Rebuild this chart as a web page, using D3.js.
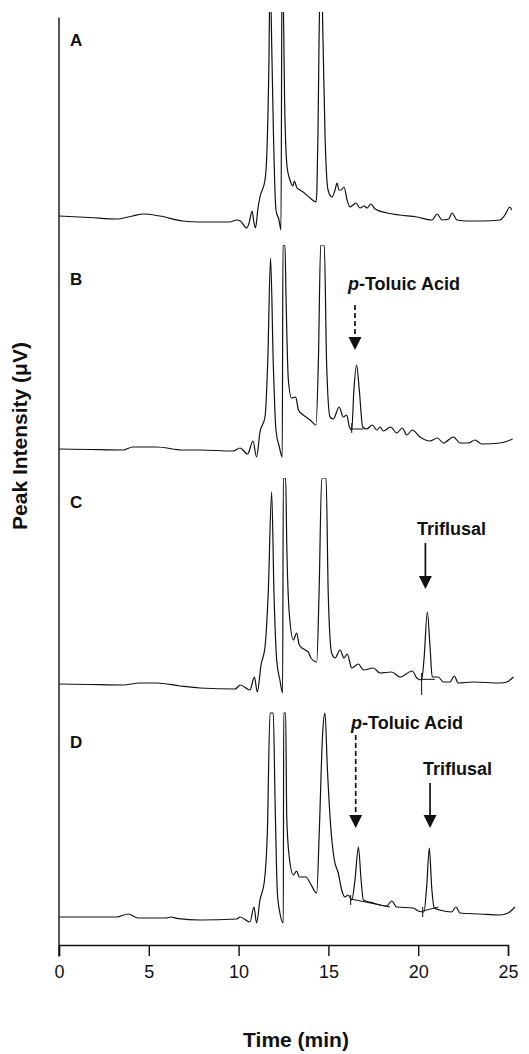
<!DOCTYPE html>
<html>
<head>
<meta charset="utf-8">
<script src="https://cdn.jsdelivr.net/npm/d3@7"></script>
<style>
body { margin: 0; background: #fff; }
text { font-family: "Liberation Sans", Arial, Helvetica, sans-serif; fill: #111; }
</style>
</head>
<body>
<svg id="chart" width="529" height="1054"></svg>
<script>
// chromatogram traces, [time (min), intensity]
var traceA = [[0,17],[1.7,15.5],[3.2,14],[4.1,17],[4.7,19],[5.6,17],[6.9,12],[7.85,11],[9.5,11],[9.9,13],[10.1,12],[10.45,5],[10.6,11],[10.75,22],[10.85,11],[10.94,5],
	[11.08,25],[11.19,36],[11.47,53],[11.58,83],[11.69,173],[11.75,260],[11.86,173],[11.94,100],[12.08,23],[12.25,13],[12.36,3],[12.42,280],[12.47,260],
	[12.56,133],[12.7,66],[12.86,53],[13.03,47],[13.1,52],[13.25,45],[13.42,43],[13.59,41],[13.98,35],[14.31,31],[14.36,43],[14.42,100],[14.48,193],[14.59,280],
	[14.7,193],[14.81,100],[14.98,43],[15.2,36],[15.37,43],[15.48,50],[15.59,43],[15.7,43],[15.87,46],[16.04,33],[16.2,26],[16.37,28],[16.54,30],[16.76,25],
	[16.98,27],[17.15,25],[17.37,29],[17.6,24],[18.26,20],[18.99,18],[19.93,16],[20.77,13],[21.05,19],[21.33,13],[21.7,14],[21.88,20],[22.16,13],[22.72,12],
	[23.6,12],[24.55,13],[24.83,18],[25.1,26],[25.2,23]]

var traceB = [[0,17],[1.7,16.5],[3.57,16],[4.1,19],[5.44,19],[6.9,16],[7.85,16],[9.7,15],[10.08,18],[10.5,12],[10.8,25],[11.0,9],[11.19,34],[11.47,49],[11.62,103],
	[11.78,208],[11.93,103],[12.08,36],[12.27,19],[12.43,9],[12.47,221],[12.58,221],[12.64,169],[12.77,86],[12.95,68],[13.18,69],[13.33,56],[13.6,51],[13.98,46],
	[14.31,41],[14.44,103],[14.57,221],[14.77,221],[14.9,103],[15.09,49],[15.27,47],[15.6,59],[15.83,49],[16.02,51],[16.17,39],[16.3,36],[16.42,76],[16.57,101],
	[16.72,76],[16.91,39],[17.13,37],[17.45,41],[17.69,36],[17.87,39],[18.06,35],[18.47,39],[18.8,33],[19.12,38],[19.36,31],[19.67,36],[20.1,29],[20.66,25],
	[21.07,28],[21.4,23],[21.96,29],[22.33,23],[22.8,23],[23.16,26],[23.54,22],[24.55,23],[25.26,27]]

var traceC = [[0,15],[1.7,14.5],[3.57,14],[4.5,16],[5.44,16],[6.74,13],[7.85,11],[9.8,10],[10.1,14],[10.63,9],[10.88,22],[11.04,7],[11.25,34],[11.47,52],[11.65,106],
	[11.84,207],[11.97,106],[12.12,39],[12.3,19],[12.45,6],[12.49,221],[12.62,221],[12.68,156],[12.82,86],[13.05,59],[13.23,66],[13.38,54],[13.7,49],[13.88,47],
	[14.03,41],[14.35,37],[14.48,106],[14.63,221],[14.87,221],[14.99,106],[15.18,46],[15.37,41],[15.65,49],[15.87,41],[16.05,45],[16.3,31],[16.67,35],[16.95,29],
	[17.5,31],[17.87,26],[18.52,27],[18.99,22],[19.67,28],[19.92,21],[20.19,19],[20.32,39],[20.51,87],[20.66,52],[20.78,22],[21.12,22],[21.4,17],[21.77,17],
	[22.01,23],[22.23,16],[23.07,17],[24.55,16],[24.93,17],[25.3,22]]

var traceD = [[0,15],[3.2,15],[3.86,18],[4.4,14],[6.0,14],[6.2,15],[6.55,13.7],[7.85,12],[9.9,13],[10.08,15],[10.63,10],[10.86,25],[11.0,9],[11.19,32],[11.43,50],
	[11.6,99],[11.75,219],[11.93,219],[12.03,132],[12.16,39],[12.3,19],[12.49,9],[12.51,219],[12.62,219],[12.68,115],[12.82,75],[13.05,57],[13.23,61],[13.38,55],
	[13.75,55],[13.98,49],[14.35,39],[14.49,99],[14.68,199],[14.81,219],[14.94,165],[15.13,105],[15.33,72],[15.55,59],[15.74,42],[15.92,35],[16.1,37],[16.3,32],
	[16.48,52],[16.67,85],[16.82,52],[16.95,32],[17.5,29],[18.25,26],[18.52,31],[18.8,25],[19.73,24],[20.0,21],[20.32,20],[20.47,45],[20.62,84],[20.75,45],
	[20.9,24],[21.21,22],[21.86,20],[22.1,25],[22.33,19],[23.44,18],[24.55,17],[25.0,19],[25.39,25]]

// integration baselines: start tick [t, v1, v2] and line [[t,v],[t,v]]
var integB = [{tick:[16.3,43,33], line:[[16.3,37],[16.95,37]]}]
var integC = [{tick:[20.19,26,4], line:[[20.19,19.7],[20.93,19.7]]}]
var integD = [{tick:[16.24,37,27], line:[[16.24,33],[18.43,25]]}, {tick:[20.25,25,15], line:[[20.25,21],[21.12,25]]}]

// annotations: label, text start time, text baseline, arrow time, arrow top, arrow tip, dashed?
var notesB = [{label:'Toluic Acid', italic:'p', tx:16.09, ty:176, ax:16.48, top:161, tip:116, dash:true}]
var notesC = [{label:'Triflusal', tx:19.93, ty:164, ax:20.4, top:156, tip:110, dash:false}]
var notesD = [{label:'Toluic Acid', italic:'p', tx:16.26, ty:203, ax:16.52, top:197, tip:104, dash:true},
	{label:'Triflusal', tx:20.27, ty:157, ax:20.66, top:149, tip:104, dash:false}]

var panelNames = ['A', 'B', 'C', 'D']
var traces = [traceA, traceB, traceC, traceD]
var integs = [[], integB, integC, integD]
var notes = [[], notesB, notesC, notesD]
var xTicks = [0, 5, 10, 15, 20, 25]

var svg = d3.select('#chart')

var x = d3.scaleLinear().domain([0, 25]).range([59, 508])
var bottoms = [233, 466, 699, 932]
var labelY = [187, 181, 191, 184]

var defs = svg.append('defs')

panelNames.forEach(function(name, i) {
	var y = d3.scaleLinear().domain([0, 220]).range([bottoms[i], bottoms[i] - 220])

	defs.append('clipPath').attr('id', 'clip' + i)
		.append('rect')
		.attr('x', 0).attr('width', 529)
		.attr('y', y(221)).attr('height', y(-20) - y(221))

	var g = svg.append('g')

	var line = d3.line()
		.x(function(d) { return x(d[0]) })
		.y(function(d) { return y(d[1]) })
		.curve(d3.curveMonotoneX)

	g.append('path')
		.datum(traces[i])
		.attr('clip-path', 'url(#clip' + i + ')')
		.attr('d', line)
		.attr('fill', 'none')
		.attr('stroke', '#111')
		.attr('stroke-width', 1.2)
		.attr('stroke-linejoin', 'round')

	integs[i].forEach(function(seg) {
		g.append('line')
			.attr('x1', x(seg.line[0][0])).attr('y1', y(seg.line[0][1]))
			.attr('x2', x(seg.line[1][0])).attr('y2', y(seg.line[1][1]))
			.attr('stroke', '#111').attr('stroke-width', 1)
		g.append('line')
			.attr('x1', x(seg.tick[0])).attr('y1', y(seg.tick[1]))
			.attr('x2', x(seg.tick[0])).attr('y2', y(seg.tick[2]))
			.attr('stroke', '#111').attr('stroke-width', 1)
	})

	notes[i].forEach(function(n) {
		var t = g.append('text')
			.attr('x', x(n.tx)).attr('y', y(n.ty))
			.style('font-size', '18px').style('font-weight', 'bold')
		if (n.italic) {
			t.append('tspan').style('font-style', 'italic').text(n.italic)
			t.append('tspan').text('-' + n.label)
		} else {
			t.text(n.label)
		}
		var ax = x(n.ax), tipY = y(n.tip)
		g.append('line')
			.attr('x1', ax).attr('x2', ax)
			.attr('y1', y(n.top)).attr('y2', tipY - 11)
			.attr('stroke', '#111').attr('stroke-width', 1.7)
			.attr('stroke-dasharray', n.dash ? '5,3' : null)
		g.append('path')
			.attr('d', 'M' + (ax - 6.5) + ',' + (tipY - 13) + 'L' + (ax + 6.5) + ',' + (tipY - 13) + 'L' + ax + ',' + tipY + 'Z')
			.attr('fill', '#111')
	})

	g.append('text')
		.attr('x', 70).attr('y', bottoms[i] - labelY[i])
		.style('font-size', '17px').style('font-weight', 'bold')
		.text(name)
})

// axes
var xAxis = svg.append('g')
	.attr('transform', 'translate(0,945)')
	.call(d3.axisBottom(x).tickValues(xTicks).tickSize(11).tickSizeOuter(11).tickPadding(9))
xAxis.selectAll('text').style('font-size', '18px').attr('fill', '#111').style('font-family', '"Liberation Sans", Arial, sans-serif')
xAxis.selectAll('line, path').attr('stroke', '#111').attr('stroke-width', 1.4)

var yAxisScale = d3.scaleLinear().domain([0, 1]).range([956, 17])
var yAxis = svg.append('g')
	.attr('transform', 'translate(58.5,0)')
	.call(d3.axisLeft(yAxisScale).tickValues([]).tickSizeOuter(0))
yAxis.selectAll('path').attr('stroke', '#111').attr('stroke-width', 1.4)

svg.append('text')
	.attr('x', 296).attr('y', 1047)
	.attr('text-anchor', 'middle')
	.style('font-size', '21px').style('font-weight', 'bold')
	.text('Time (min)')

svg.append('text')
	.attr('transform', 'translate(27,436)rotate(-90)')
	.attr('text-anchor', 'middle')
	.style('font-size', '21px').style('font-weight', 'bold')
	.text('Peak Intensity (\u03bcV)')
</script>
</body>
</html>
